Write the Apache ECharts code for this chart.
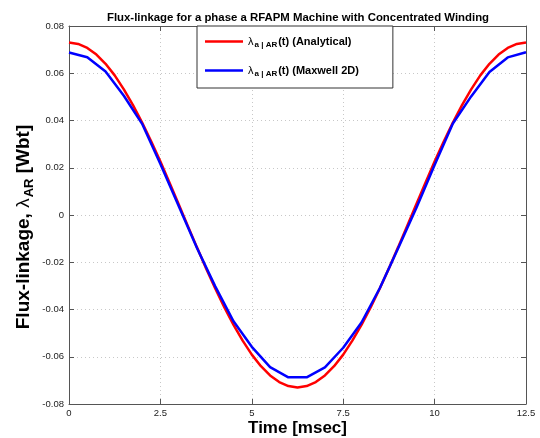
<!DOCTYPE html>
<html><head><meta charset="utf-8">
<script src="https://cdn.jsdelivr.net/npm/echarts@6/dist/echarts.min.js"></script>
<style>html,body{margin:0;padding:0;background:#fff}#c{width:540px;height:438px}</style>
</head><body><div id="c"></div>
<script>
const titleText = 'Flux-linkage for a phase a RFAPM Machine with Concentrated Winding';
const xName = 'Time [msec]';
const seriesNames = ['Analytical', 'Maxwell 2D'];
const timeAnalytical = [0,0.25,0.5,0.75,1,1.25,1.5,1.75,2,2.25,2.5,2.75,3,3.25,3.5,3.75,4,4.25,4.5,4.75,5,5.25,5.5,5.75,6,6.25,6.5,6.75,7,7.25,7.5,7.75,8,8.25,8.5,8.75,9,9.25,9.5,9.75,10,10.25,10.5,10.75,11,11.25,11.5,11.75,12,12.25,12.5];
const fluxAnalytical = [0.0730,0.0724,0.0707,0.0679,0.0640,0.0591,0.0532,0.0465,0.0391,0.0311,0.0226,0.0137,0.0046,-0.0046,-0.0137,-0.0226,-0.0311,-0.0391,-0.0465,-0.0532,-0.0591,-0.0640,-0.0679,-0.0707,-0.0724,-0.0730,-0.0724,-0.0707,-0.0679,-0.0640,-0.0591,-0.0532,-0.0465,-0.0391,-0.0311,-0.0226,-0.0137,-0.0046,0.0046,0.0137,0.0226,0.0311,0.0391,0.0465,0.0532,0.0591,0.0640,0.0679,0.0707,0.0724,0.0730];
const timeMaxwell = [0,0.5,1,1.5,2,2.5,3,3.5,4,4.5,5,5.5,6,6.5,7,7.5,8,8.5,9,9.5,10,10.5,11,11.5,12,12.5];
const fluxMaxwell = [0.0688,0.0668,0.0607,0.0505,0.0386,0.0216,0.0038,-0.0140,-0.0302,-0.0450,-0.0558,-0.0644,-0.0687,-0.0687,-0.0645,-0.0562,-0.0455,-0.0310,-0.0142,0.0030,0.0212,0.0387,0.0502,0.0605,0.0667,0.0689];
const xTicks = [0, 2.5, 5, 7.5, 10, 12.5];
const yTicks = [-0.08, -0.06, -0.04, -0.02, 0, 0.02, 0.04, 0.06, 0.08];

const FONT = 'Liberation Sans, Arial, sans-serif';
const chart = echarts.init(document.getElementById('c'), null, {renderer: 'canvas'});
const zip = (a, b) => a.map((v, i) => [v, b[i]]);
const axisLine = {show: true, onZero: false, lineStyle: {color: '#555', width: 1}};
const tick = {show: true, inside: true, length: 5, lineStyle: {color: '#555'}};
const split = {show: true, lineStyle: {color: '#c8c8c8', type: [1, 3], width: 1}};
const legRich = {
  l: {fontFamily: FONT, fontSize: 11, color: '#000', lineHeight: 16},
  s: {fontFamily: FONT, fontSize: 8, fontWeight: 'bold', color: '#000', padding: [7, 1, 0, 1], lineHeight: 16},
  b: {fontFamily: FONT, fontSize: 11, fontWeight: 'bold', color: '#000', lineHeight: 16}
};
chart.setOption({
  animation: false,
  backgroundColor: '#fff',
  title: {
    text: titleText, left: 293, top: 7, textAlign: 'center',
    textStyle: {fontFamily: FONT, fontSize: 11.4, fontWeight: 'bold', color: '#000'}
  },
  grid: {left: 69, right: 14, top: 26, bottom: 34, show: false, outerBoundsMode: 'none', containLabel: false},
  legend: {
    orient: 'vertical', left: 197, top: 26,
    data: seriesNames,
    icon: 'rect', itemWidth: 38, itemHeight: 2.5, itemGap: 14,
    padding: [8, 34, 10, 8],
    borderColor: '#333', borderWidth: 1, backgroundColor: '#fff',
    formatter: n => '{l|λ}{s|a | AR}{b|(t) (' + n + ')}',
    textStyle: {rich: legRich}
  },
  xAxis: [{
    type: 'value', min: xTicks[0], max: xTicks[xTicks.length - 1], interval: 2.5,
    name: xName, nameLocation: 'middle', nameGap: 16, nameMoveOverlap: false,
    nameTextStyle: {fontFamily: FONT, fontSize: 17, fontWeight: 'bold', color: '#000'},
    axisLine: axisLine, axisTick: tick, splitLine: split,
    axisLabel: {fontFamily: FONT, fontSize: 9.5, color: '#222', margin: 4}
  }, {
    type: 'value', position: 'top', min: xTicks[0], max: xTicks[xTicks.length - 1], interval: 2.5,
    axisLine: axisLine, axisTick: tick, splitLine: {show: false}, axisLabel: {show: false}
  }],
  yAxis: [{
    type: 'value', min: yTicks[0], max: yTicks[yTicks.length - 1], interval: 0.02,
    name: '{n|Flux-linkage, }{l|λ}{s|AR}{n| [Wbt]}', nameLocation: 'middle', nameGap: 34, nameRotate: 90,
    nameMoveOverlap: false,
    nameTextStyle: {padding: [0, 24, 0, 0], rich: {
      n: {fontFamily: FONT, fontSize: 19, fontWeight: 'bold', color: '#000', lineHeight: 22},
      l: {fontFamily: FONT, fontSize: 19, color: '#000', lineHeight: 22},
      s: {fontFamily: FONT, fontSize: 13, fontWeight: 'bold', color: '#000', padding: [10, 0, 0, 1], lineHeight: 22}
    }},
    axisLine: axisLine, axisTick: tick, splitLine: split,
    axisLabel: {fontFamily: FONT, fontSize: 9.5, color: '#222', margin: 5,
      formatter: v => String(Math.round(v * 100) / 100)}
  }, {
    type: 'value', position: 'right', min: yTicks[0], max: yTicks[yTicks.length - 1], interval: 0.02,
    axisLine: axisLine, axisTick: tick, splitLine: {show: false}, axisLabel: {show: false}
  }],
  series: [{
    name: seriesNames[0], type: 'line', data: zip(timeAnalytical, fluxAnalytical),
    symbol: 'none', smooth: false, z: 3,
    lineStyle: {color: '#ff0000', width: 2.5}, itemStyle: {color: '#ff0000'}
  }, {
    name: seriesNames[1], type: 'line', data: zip(timeMaxwell, fluxMaxwell),
    symbol: 'none', smooth: false, z: 4,
    lineStyle: {color: '#0000ff', width: 2.5}, itemStyle: {color: '#0000ff'}
  }]
});
</script></body></html>
